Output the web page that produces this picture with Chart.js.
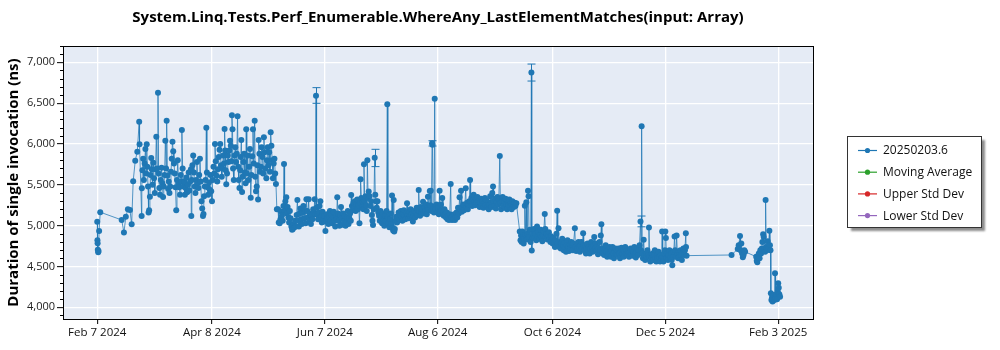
<!DOCTYPE html>
<html>
<head>
<meta charset="utf-8">
<title>WhereAny_LastElementMatches(input: Array)</title>
<script src="https://cdn.jsdelivr.net/npm/chart.js@4.4.1/dist/chart.umd.min.js"></script>
<style>
  html, body { margin: 0; padding: 0; background: #fff; }
  #wrap { width: 1000px; height: 350px; }
</style>
</head>
<body>
<div id="wrap"><canvas id="chart" width="1000" height="350"></canvas></div>
<script>
// ─── Data ─────────────────────────────────────────────────────────
// Each run is [days since Feb 7 2024, duration in ns]
const runsFebMar = [
  [0.0, 5049], [0.1, 4820], [0.2, 4784], [0.3, 4705], [0.5, 4674], [0.7, 4690], [1.0, 4935], [1.6, 5165],
  [13.0, 5070], [14.2, 4915], [15.2, 5110], [16.3, 5200], [17.4, 5192], [18.3, 5017], [19.1, 5543], [20.2, 5796],
  [21.3, 5906], [22.3, 6273], [22.5, 5996], [23.6, 5119], [23.7, 5457], [24.0, 5680], [24.4, 5820], [24.8, 5560],
  [25.2, 5760], [25.6, 5940], [26.0, 5640], [26.3, 5996], [26.6, 5720], [27.0, 5480], [27.3, 5160], [27.6, 5190],
  [28.0, 5355], [28.3, 5620], [28.7, 5830], [29.0, 5690], [29.4, 5500], [29.8, 5770], [30.2, 5580], [30.6, 5400],
  [31.0, 5690], [31.4, 6090], [31.8, 5700], [32.3, 6628], [32.6, 5640], [33.0, 5460], [33.4, 5380], [33.8, 5560],
  [34.2, 5710], [34.6, 5520], [35.0, 5350], [35.4, 5480], [35.8, 5620], [36.2, 6041], [36.6, 5700], [36.9, 6286],
  [37.3, 5610], [37.7, 5450], [38.0, 5540], [38.4, 5400], [38.8, 5480], [39.2, 5660], [39.6, 5820], [40.0, 6029],
  [40.4, 5910], [40.8, 5760], [41.2, 5640], [41.6, 5470], [42.0, 5188], [42.4, 5560], [42.8, 5800], [43.2, 5520],
  [43.6, 5470], [44.0, 5380], [44.4, 5620], [44.8, 5540], [45.0, 6171], [45.4, 5700], [45.8, 5480], [46.2, 5540],
  [46.6, 5380], [47.0, 5460], [47.4, 5590], [47.8, 5410], [48.2, 5500], [48.6, 5650], [49.0, 5430], [49.4, 5540],
  [49.8, 5690], [50.0, 5119], [50.3, 5560], [50.6, 5740], [51.0, 5860], [51.4, 5650], [51.8, 5480],
];

const runsApr = [
  [52.2, 5400], [52.6, 5560], [53.0, 5780], [53.4, 5520], [53.8, 5460], [54.2, 5620], [54.6, 5820], [55.0, 5540],
  [55.4, 5300], [55.8, 5210], [56.2, 5119], [56.5, 5143], [56.8, 5360], [57.2, 5480], [57.6, 5560], [58.0, 6200],
  [58.3, 5650], [58.7, 5470], [59.0, 5380], [59.4, 5530], [59.8, 5440], [60.2, 5620], [60.6, 5420], [61.0, 5298],
  [61.4, 5560], [61.8, 5720], [62.2, 5640], [62.6, 6000], [63.0, 5790], [63.4, 5610], [63.8, 5540], [64.2, 5690],
  [64.6, 5840], [65.0, 5930], [65.4, 6000], [65.8, 5740], [66.2, 5600], [66.6, 5700], [67.0, 5860], [67.4, 5760],
  [67.7, 6184], [68.0, 5920], [68.3, 5680], [68.6, 5506], [69.0, 5640], [69.4, 5860], [69.8, 5780], [70.2, 5920],
  [70.6, 6041], [71.0, 5980], [71.3, 5790], [71.6, 6351], [71.9, 6180], [72.2, 5700], [72.6, 5560], [73.0, 5860],
  [73.4, 5960], [73.8, 5780], [74.2, 5880], [74.6, 6339], [74.9, 5720], [75.2, 5560], [75.6, 5460], [76.0, 5680],
  [76.3, 5840], [76.6, 6049], [77.0, 5413], [77.3, 5600], [77.7, 5780], [78.1, 5880], [78.5, 5650], [78.9, 5520],
  [79.2, 6180], [79.5, 5640],
];

const runsMay = [
  [80.0, 5860], [80.4, 5560], [80.8, 5720], [81.2, 5940], [81.6, 5343], [82.0, 5620], [82.4, 5850], [82.8, 6180],
  [83.2, 5760], [83.7, 6286], [84.0, 5600], [84.4, 5420], [84.8, 5480], [85.1, 5740], [85.5, 5319], [85.8, 6049],
  [86.2, 5880], [86.6, 5660], [87.0, 5720], [87.4, 5960], [87.8, 5840], [88.2, 5640], [88.6, 6082], [89.0, 5900],
  [89.4, 5700], [89.9, 5580], [90.2, 5800], [90.6, 5960], [91.0, 5740], [91.4, 5900], [91.8, 5660], [92.2, 6143],
  [92.6, 5980], [93.0, 5800], [93.4, 5580], [93.8, 5760], [94.2, 5820], [94.6, 5640], [95.0, 5510],
];

const runsJun = [
  [95.5, 5200], [96.1, 5200], [96.5, 5040], [97.0, 5029], [97.4, 5080], [97.8, 5172], [98.2, 5120], [98.6, 5060],
  [99.0, 5240], [99.3, 5755], [99.6, 5180], [100.0, 5300], [100.5, 5347], [100.8, 5150], [101.2, 5230], [101.6, 5100],
  [102.0, 5040], [102.4, 5180], [102.8, 5090], [103.2, 4990], [103.6, 4950], [104.0, 4960], [104.4, 5020], [104.8, 4980],
  [105.2, 5060], [105.6, 4990], [106.0, 5130], [106.4, 5315], [106.8, 5060], [107.2, 4990], [107.6, 5150], [108.0, 5210],
  [108.4, 5080], [108.8, 5020], [109.2, 5160], [109.6, 5240], [110.0, 5090], [110.4, 5180], [110.8, 5030], [111.2, 5323],
  [111.6, 5180], [112.0, 5100], [112.4, 5323], [112.8, 5060], [113.2, 5150], [113.6, 5020], [114.0, 5120], [114.4, 5080],
  [114.8, 5200], [115.2, 5160], [115.6, 5323], [116.0, 5140], [116.3, 6592], [116.6, 5220], [117.0, 5140], [117.4, 5080],
  [117.8, 5160], [118.2, 5240], [118.6, 5300], [119.0, 5110], [119.4, 5040], [119.8, 5170], [120.2, 5080], [120.6, 5120],
  [121.0, 5050], [121.3, 4935], [121.7, 5060], [122.1, 5140], [122.5, 5090], [122.9, 5020], [123.3, 5110], [123.7, 5180],
  [124.1, 5060], [124.5, 5140], [124.9, 5030], [125.3, 5100], [125.7, 5170], [126.1, 5060], [126.5, 4990], [126.9, 5120],
  [127.3, 5080], [127.6, 5347], [128.0, 5150], [128.4, 5060], [128.8, 5000], [129.2, 5130], [129.6, 5230], [130.0, 5090],
  [130.4, 5010], [130.8, 5150], [131.2, 5060], [131.6, 5120], [132.0, 5000], [132.4, 5040], [132.8, 5100], [133.2, 5180],
  [133.6, 5020], [134.0, 5090],
];

const runsJul = [
  [134.4, 5150], [134.8, 5060], [135.0, 5376], [135.4, 5240], [135.8, 5190], [136.2, 5280], [136.6, 5220], [137.0, 5300],
  [137.4, 5180], [137.8, 5260], [138.2, 5320], [138.6, 5200], [139.0, 5250], [139.4, 5029], [139.8, 5280], [140.0, 5568],
  [140.4, 5340], [140.8, 5230], [141.2, 5290], [141.5, 5200], [141.8, 5751], [142.2, 5300], [142.6, 5360], [143.0, 5250],
  [143.3, 5180], [143.6, 5800], [144.0, 5340], [144.3, 5417], [144.8, 5360], [145.2, 5240], [145.6, 5300], [146.0, 5130],
  [146.3, 5060], [146.6, 5009], [147.0, 5200], [147.5, 5833], [147.8, 5380], [148.2, 5300], [148.6, 5220], [149.0, 5300],
  [149.4, 5160], [149.8, 5120], [150.2, 5060], [150.6, 5180], [151.0, 5100], [151.4, 5030], [151.8, 5150], [152.2, 5070],
  [152.6, 5000], [153.0, 5120], [153.4, 5060], [153.8, 5180], [154.2, 6486], [154.5, 5100], [154.9, 5030], [155.3, 4980],
  [155.7, 5080], [156.1, 5150], [156.4, 5020], [156.7, 5368], [157.0, 4970], [157.3, 4940], [157.6, 5315], [157.9, 4930],
  [158.2, 4960], [158.6, 5060], [159.0, 5110], [159.4, 5040],
];

const runsAugSep = [
  [159.8, 5100], [160.2, 5160], [160.6, 5080], [161.0, 5130], [161.4, 5180], [161.8, 5100], [162.2, 5060], [162.6, 5140],
  [163.0, 5190], [163.4, 5120], [163.8, 5080], [164.2, 5150], [164.7, 5274], [165.0, 5130], [165.4, 5090], [165.8, 5180],
  [166.2, 5120], [166.6, 5200], [167.0, 5140], [167.4, 5100], [167.8, 5050], [168.2, 5120], [168.6, 5180], [169.0, 5100],
  [169.4, 5160], [169.8, 5220], [170.2, 5130], [170.6, 5190], [170.9, 5437], [171.2, 5180], [171.6, 5120], [172.0, 5230],
  [172.4, 5160], [172.8, 5200], [173.2, 5294], [173.6, 5150], [174.0, 5230], [174.4, 5180], [174.8, 5260], [175.2, 5140],
  [175.6, 5220], [175.8, 5355], [176.2, 5200], [176.8, 5425], [177.1, 5250], [177.3, 5429], [177.6, 5180], [178.0, 6008],
  [178.2, 5990], [178.5, 5200], [179.0, 5160], [179.4, 6555], [179.6, 5240], [180.0, 5200], [180.4, 5260], [180.8, 5160],
  [181.2, 5220], [181.6, 5140], [182.0, 5429], [182.3, 5180], [182.7, 5260], [183.0, 5190], [183.4, 5340], [183.8, 5160],
  [184.2, 5120], [184.6, 5200], [185.0, 5140], [185.4, 5100], [185.8, 5160], [186.2, 5080], [186.6, 5120], [187.0, 5070],
  [187.4, 5140], [187.9, 5510], [188.2, 5100], [188.6, 5070], [189.0, 5120], [189.4, 5080], [189.8, 5140], [190.2, 5070],
  [190.6, 5110], [191.0, 5160], [191.4, 5100], [191.8, 5220], [192.2, 5150], [192.6, 5347], [193.0, 5200], [193.4, 5429],
  [193.8, 5170], [194.2, 5230], [194.6, 5260], [195.0, 5190], [195.4, 5250], [195.9, 5457], [196.2, 5220], [196.6, 5280],
  [197.0, 5200], [197.4, 5260], [197.8, 5300], [198.2, 5560], [198.5, 5290], [198.9, 5340], [199.3, 5240], [199.7, 5310],
  [200.1, 5380], [200.5, 5290], [200.9, 5250], [201.3, 5330], [201.7, 5280], [202.1, 5350], [202.5, 5260], [202.9, 5300],
  [203.3, 5230], [203.7, 5280], [204.1, 5330], [204.5, 5250], [204.9, 5300], [205.3, 5220], [205.7, 5270], [206.1, 5340],
  [206.5, 5250], [206.9, 5310], [207.3, 5230], [207.7, 5280], [208.1, 5200], [208.5, 5260], [208.9, 5360], [209.3, 5280],
  [209.7, 5230], [210.0, 5400], [210.4, 5478], [210.7, 5300], [211.1, 5240], [211.5, 5330], [211.9, 5210], [212.3, 5290],
  [212.7, 5350], [213.1, 5260], [213.5, 5320], [214.0, 5853], [214.3, 5280], [214.7, 5200], [215.1, 5300], [215.5, 5350],
  [215.9, 5240], [216.3, 5300], [216.7, 5220], [217.1, 5330], [217.5, 5260], [217.9, 5200], [218.3, 5290], [218.7, 5250],
  [219.1, 5320], [219.5, 5230], [219.9, 5280], [220.3, 5200], [220.7, 5300], [221.1, 5260], [221.5, 5230], [221.9, 5280],
  [222.3, 5240], [222.8, 5274],
];

const runsOct = [
  [224.6, 4927], [225.0, 4820], [225.3, 4880], [225.6, 4800], [226.0, 4930], [226.3, 4860], [226.7, 4780], [227.0, 4840],
  [227.3, 5245], [227.6, 4890], [228.1, 5286], [228.4, 4830], [228.8, 4900], [229.0, 5429], [229.3, 5360], [229.6, 4860],
  [230.0, 4950], [230.4, 4800], [230.8, 6877], [231.0, 4695], [231.4, 4850], [231.8, 4900], [232.2, 4960], [232.6, 4850],
  [233.0, 4900], [233.4, 4820], [233.8, 4990], [234.2, 4860], [234.6, 4930], [235.0, 4840], [235.4, 4890], [235.8, 4950],
  [236.2, 4860], [236.6, 4810], [237.0, 4880], [237.4, 4930], [237.9, 5143], [238.2, 4960], [238.5, 4860], [238.9, 4900],
  [239.3, 4830], [239.7, 4880], [240.1, 4920], [240.5, 4840], [240.9, 4800], [241.3, 4870], [241.7, 4820], [242.1, 4780],
  [242.5, 4850], [242.9, 4800], [243.3, 4740], [243.7, 4820], [244.1, 4900], [244.5, 5184], [244.8, 4780], [245.2, 4968],
  [245.6, 4740], [246.0, 4800], [246.4, 4720], [246.8, 4780], [247.2, 4840], [247.6, 4760], [248.0, 4700], [248.4, 4790],
  [248.8, 4740], [249.2, 4680], [249.6, 4760], [250.0, 4820], [250.4, 4740], [250.8, 4690], [251.2, 4770], [251.6, 4720],
  [252.0, 4800], [252.4, 4760], [252.8, 4700], [253.2, 4780], [253.9, 4968], [254.2, 4740], [254.6, 4690], [255.0, 4760],
  [255.4, 4720], [255.8, 4800], [256.2, 4740], [256.6, 4680], [257.0, 4760], [257.4, 4800], [257.8, 4720], [258.3, 4907],
  [258.6, 4760], [259.0, 4700], [259.4, 4760], [259.8, 4660], [260.2, 4720], [260.6, 4780], [261.0, 4700], [261.4, 4740],
  [261.8, 4660], [262.2, 4720], [262.6, 4800], [263.0, 4740], [263.4, 4680], [263.8, 4760], [264.2, 4860], [264.6, 4720],
  [265.0, 4780], [265.4, 4700], [265.8, 4740], [266.2, 4650], [266.6, 4720], [267.0, 4800], [267.4, 4700], [267.7, 4880],
  [268.0, 5017], [268.3, 4700],
];

const runsNovDec = [
  [268.7, 4660], [269.1, 4720], [269.5, 4640], [269.9, 4700], [270.3, 4760], [270.7, 4680], [271.1, 4620], [271.5, 4700],
  [271.9, 4660], [272.3, 4740], [272.7, 4680], [273.1, 4620], [273.5, 4690], [273.9, 4740], [274.3, 4660], [274.7, 4600],
  [275.1, 4680], [275.5, 4720], [275.9, 4650], [276.3, 4700], [276.7, 4640], [277.1, 4720], [277.5, 4660], [277.9, 4600],
  [278.3, 4680], [278.7, 4730], [279.1, 4660], [279.5, 4700], [279.9, 4620], [280.3, 4680], [280.7, 4740], [281.1, 4660],
  [281.5, 4700], [281.9, 4640], [282.3, 4690], [282.7, 4620], [283.1, 4680], [283.5, 4720], [283.9, 4650], [284.3, 4700],
  [284.7, 4630], [285.1, 4680], [285.5, 4740], [285.9, 4660], [286.3, 4610], [286.7, 4680], [287.1, 4720], [287.5, 4640],
  [287.9, 4700], [288.3, 4760], [288.8, 5050], [289.1, 4700], [289.4, 6216], [289.7, 4660], [290.1, 4600], [290.5, 4826],
  [290.9, 4640], [291.3, 4580], [291.7, 4660], [292.1, 4620], [292.5, 4700], [292.9, 4640], [293.3, 4976], [293.6, 4620],
  [294.0, 4560], [294.4, 4640], [294.8, 4600], [295.2, 4660], [295.6, 4580], [296.0, 4640], [296.4, 4700], [296.8, 4600],
  [297.2, 4560], [297.6, 4640], [298.0, 4600], [298.4, 4680], [298.8, 4620], [299.2, 4560], [299.6, 4640], [300.0, 4600],
  [300.3, 4927], [300.6, 4620], [301.0, 4560], [301.4, 4660], [301.8, 4700], [302.0, 4927], [302.3, 4850], [302.6, 4600],
  [303.0, 4660], [303.4, 4580], [303.8, 4640], [304.2, 4700], [304.6, 4600], [305.0, 4660], [305.4, 4580], [305.7, 4515],
  [306.1, 4620], [306.5, 4680], [306.9, 4866], [307.2, 4700], [307.6, 4620], [308.0, 4880], [308.4, 4660], [308.8, 4600],
  [309.2, 4680], [309.6, 4620], [310.0, 4700], [310.4, 4640], [310.8, 4580], [311.2, 4660], [311.6, 4720], [312.0, 4640],
  [312.4, 4700], [312.9, 4907], [313.0, 4740], [313.3, 4633],
];

const runsJanFeb = [
  [337.2, 4641], [340.5, 4715], [341.0, 4760], [341.7, 4874], [342.0, 4700], [342.4, 4780], [342.8, 4660], [343.2, 4613],
  [343.6, 4640], [344.0, 4700], [344.4, 4680], [350.3, 4620], [350.6, 4570], [350.9, 4552], [351.3, 4620], [351.7, 4660],
  [352.1, 4600], [352.5, 4700], [352.9, 4660], [353.3, 4720], [353.6, 4800], [354.0, 4894], [354.3, 4860], [354.6, 4720],
  [355.0, 4680], [355.3, 5315], [355.6, 4740], [356.0, 4700], [356.4, 4810], [356.8, 4720], [357.3, 4939], [357.6, 4760],
  [357.9, 4700], [358.1, 4172], [358.4, 4090], [358.7, 4120], [359.0, 4070], [359.3, 4100], [359.6, 4150], [360.0, 4090],
  [360.3, 4417], [360.6, 4120], [361.0, 4150], [361.4, 4100], [361.8, 4190], [362.0, 4294], [362.3, 4240], [362.6, 4160],
  [363.0, 4130],
];

// Runs that carry a visible spread
const errorDays = [116.3, 147.5, 178.0, 230.8, 288.8];
const errorLow  = [6498, 5723, 5975, 6771, 4986];
const errorHigh = [6690, 5935, 6040, 6979, 5118];

const xTickDays   = [0, 61, 121, 181, 242, 302, 362];
const xTickLabels = ['Feb 7 2024', 'Apr 8 2024', 'Jun 7 2024', 'Aug 6 2024', 'Oct 6 2024', 'Dec 5 2024', 'Feb 3 2025'];
const yTickValues = [4000, 4500, 5000, 5500, 6000, 6500, 7000];

const seriesNames  = ['20250203.6', 'Moving Average', 'Upper Std Dev', 'Lower Std Dev'];
const seriesColors = ['#1f77b4', '#2ca02c', '#d62728', '#9467bd'];

// ─── Styling ──────────────────────────────────────────────────────
const FONT = '"Open Sans", "Noto Sans", sans-serif';
const PLOT_BG = '#e5ebf5';

const allRuns = [
  ...runsFebMar, ...runsApr, ...runsMay, ...runsJun, ...runsJul,
  ...runsAugSep, ...runsOct, ...runsNovDec, ...runsJanFeb,
];

// ─── Plugins ──────────────────────────────────────────────────────
const plotFrame = {
  id: 'plotFrame',
  beforeDraw(chart) {
    const { ctx, chartArea: a } = chart;
    ctx.save();
    ctx.fillStyle = PLOT_BG;
    ctx.fillRect(a.left, a.top, a.width, a.height);
    ctx.restore();
  },
  afterDraw(chart) {
    const { ctx, chartArea: a } = chart;
    const y = chart.scales.y;
    ctx.save();
    ctx.strokeStyle = '#000';
    ctx.lineWidth = 1;
    ctx.strokeRect(Math.round(a.left) + 0.5, Math.round(a.top) + 0.5, Math.round(a.width), Math.round(a.height));

    // minor ticks on the value axis, every 100 ns
    ctx.beginPath();
    for (let v = Math.ceil(y.min / 100) * 100; v <= y.max; v += 100) {
      if (v % 500 === 0) continue;
      const py = Math.round(y.getPixelForValue(v)) + 0.5;
      ctx.moveTo(a.left - 3, py);
      ctx.lineTo(a.left, py);
    }
    ctx.stroke();
    ctx.restore();
  },
};

const errorBars = {
  id: 'errorBars',
  afterDatasetsDraw(chart) {
    const { ctx } = chart;
    const xs = chart.scales.x, ys = chart.scales.y;
    ctx.save();
    ctx.strokeStyle = seriesColors[0];
    ctx.lineWidth = 1;
    errorDays.forEach((d, i) => {
      const px = Math.round(xs.getPixelForValue(d)) + 0.5;
      const lo = ys.getPixelForValue(errorLow[i]);
      const hi = ys.getPixelForValue(errorHigh[i]);
      ctx.beginPath();
      ctx.moveTo(px, lo);
      ctx.lineTo(px, hi);
      ctx.moveTo(px - 4, lo);
      ctx.lineTo(px + 4, lo);
      ctx.moveTo(px - 4, hi);
      ctx.lineTo(px + 4, hi);
      ctx.stroke();
    });
    ctx.restore();
  },
};

const sideLegend = {
  id: 'sideLegend',
  afterDraw(chart) {
    const { ctx } = chart;
    const box = { x: 847.5, y: 136.5, w: 134, h: 91 };
    ctx.save();
    ctx.shadowColor = 'rgba(0,0,0,0.45)';
    ctx.shadowOffsetX = 3;
    ctx.shadowOffsetY = 3;
    ctx.shadowBlur = 2;
    ctx.fillStyle = '#fff';
    ctx.fillRect(box.x, box.y, box.w, box.h);
    ctx.shadowColor = 'transparent';
    ctx.strokeStyle = '#333';
    ctx.lineWidth = 1;
    ctx.strokeRect(box.x, box.y, box.w, box.h);

    ctx.font = `12px ${FONT}`;
    ctx.textBaseline = 'middle';
    chart.data.datasets.forEach((ds, i) => {
      const ly = box.y + 14 + i * 21.7;
      ctx.strokeStyle = seriesColors[i];
      ctx.lineWidth = 1.2;
      ctx.beginPath();
      ctx.moveTo(858, ly);
      ctx.lineTo(877, ly);
      ctx.stroke();
      ctx.fillStyle = seriesColors[i];
      ctx.beginPath();
      ctx.arc(867.5, ly, 2.6, 0, Math.PI * 2);
      ctx.fill();
      ctx.fillStyle = '#111';
      ctx.fillText(ds.label, 883, ly + 0.5);
    });
    ctx.restore();
  },
};

// ─── Chart ────────────────────────────────────────────────────────
new Chart(document.getElementById('chart'), {
  type: 'line',
  data: {
    datasets: seriesNames.map((name, i) => ({
      label: name,
      data: i === 0 ? allRuns.map(([day, ns]) => ({ x: day, y: ns })) : [],
      borderColor: i === 0 ? 'rgba(31,119,180,0.75)' : seriesColors[i],
      backgroundColor: seriesColors[i],
      pointBackgroundColor: seriesColors[i],
      pointBorderColor: seriesColors[i],
      borderWidth: 1,
      pointRadius: 3,
      pointBorderWidth: 0,
      pointHoverRadius: 3,
      tension: 0,
    })),
  },
  options: {
    responsive: false,
    animation: false,
    devicePixelRatio: 1,
    events: [],
    layout: { padding: { left: 0, right: 187, top: 0, bottom: 0 } },
    plugins: {
      legend: { display: false },
      tooltip: { enabled: false },
      title: {
        display: true,
        fullSize: false,
        text: 'System.Linq.Tests.Perf_Enumerable.WhereAny_LastElementMatches(input: Array)',
        color: '#000',
        font: { family: FONT, size: 15, weight: 'bold', lineHeight: 1.2 },
        padding: { top: 9, bottom: 19 },
      },
    },
    scales: {
      x: {
        type: 'linear',
        min: -18.2,
        max: 380.5,
        afterBuildTicks: (scale) => { scale.ticks = xTickDays.map(v => ({ value: v })); },
        afterFit: (scale) => { scale.height = 31; },
        ticks: {
          autoSkip: false,
          maxRotation: 0,
          padding: 2,
          color: '#111',
          font: { family: FONT, size: 11.5 },
          callback: (v, i) => xTickLabels[i],
        },
        grid: { color: '#fff', lineWidth: 1.3, tickColor: '#000', tickLength: 5, tickWidth: 1 },
        border: { display: true, color: '#000', width: 1 },
      },
      y: {
        type: 'linear',
        min: 3857,
        max: 7200,
        afterBuildTicks: (scale) => { scale.ticks = yTickValues.map(v => ({ value: v })); },
        afterFit: (scale) => { scale.width = 63; },
        ticks: {
          padding: 2,
          color: '#222',
          font: { family: FONT, size: 11 },
          callback: (v) => v.toLocaleString('en-US'),
        },
        grid: { color: '#fff', lineWidth: 1.3, tickColor: '#000', tickLength: 6, tickWidth: 1 },
        border: { display: true, color: '#000', width: 1 },
        title: {
          display: true,
          text: 'Duration of single invocation (ns)',
          color: '#000',
          font: { family: FONT, size: 15, weight: 'bold', lineHeight: 1.2 },
          padding: { top: 5, bottom: 0 },
        },
      },
    },
  },
  plugins: [plotFrame, errorBars, sideLegend],
});
</script>
</body>
</html>
